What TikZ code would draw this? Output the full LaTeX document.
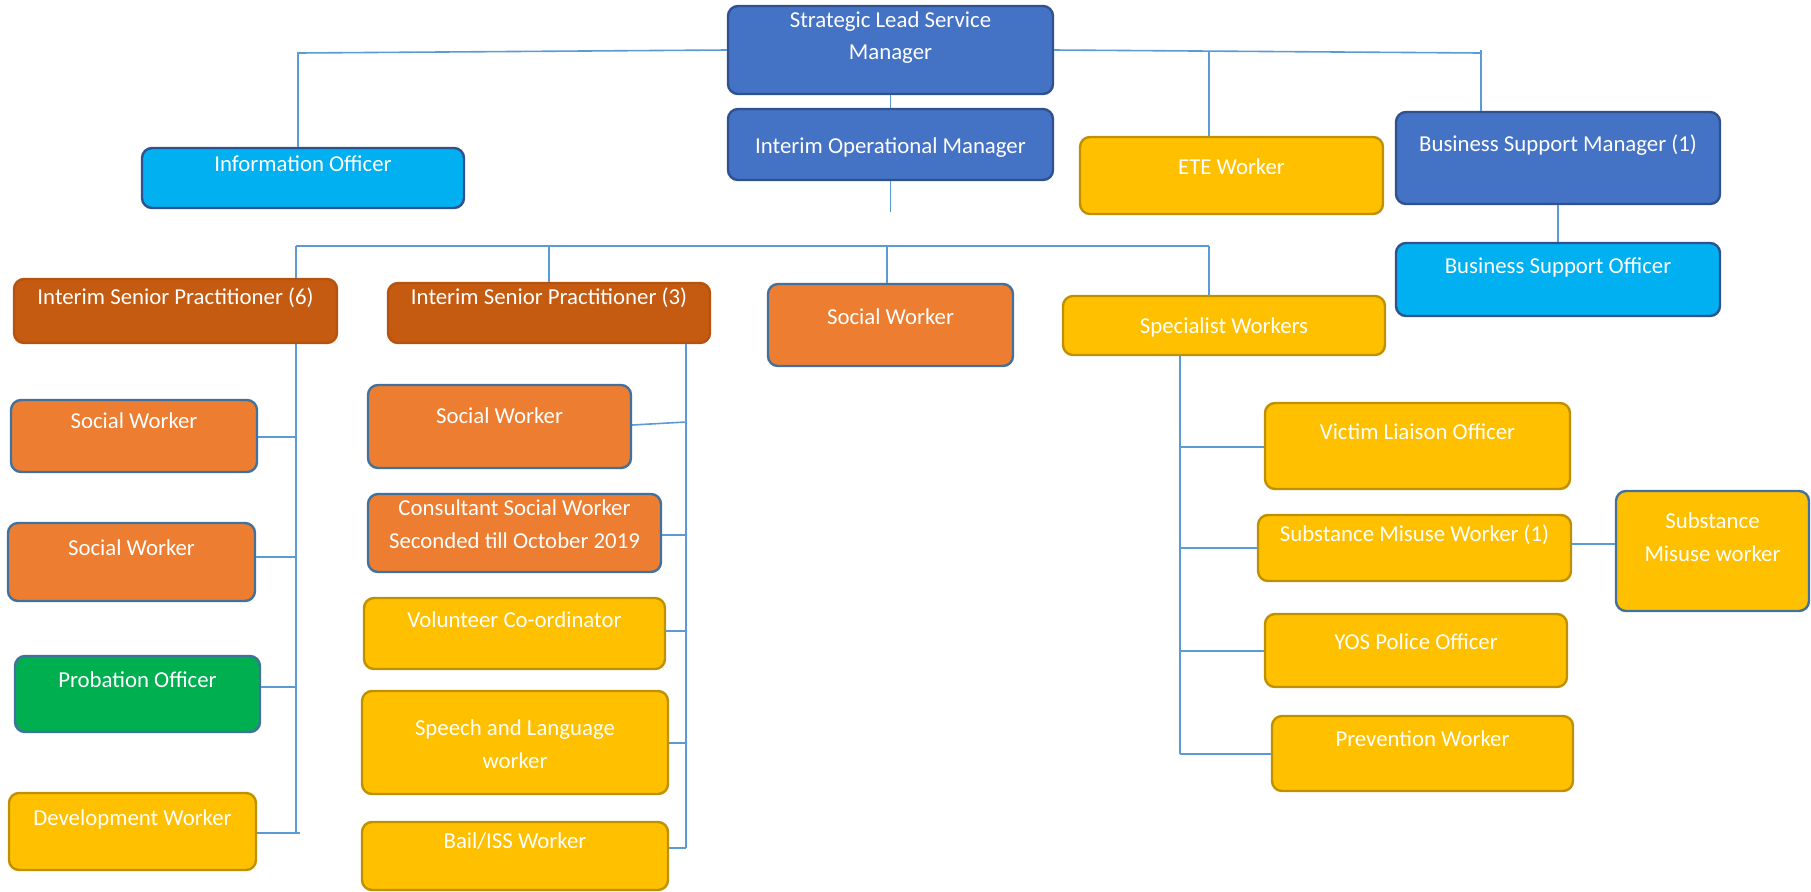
\documentclass[tikz,border=0pt]{standalone}
\usepackage{fontspec}
\setmainfont{Carlito}
\usetikzlibrary{fit}
\definecolor{dblue}{HTML}{4472C4}
\definecolor{dblueB}{HTML}{2F528F}
\definecolor{cyanF}{HTML}{00B0F0}
\definecolor{goldF}{HTML}{FFC000}
\definecolor{goldB}{HTML}{BF9000}
\definecolor{rustF}{HTML}{C55A11}
\definecolor{rustB}{HTML}{B5530F}
\definecolor{orangeF}{HTML}{ED7D31}
\definecolor{greenF}{HTML}{00B050}
\definecolor{midB}{HTML}{41719C}
\definecolor{lineC}{HTML}{5B9BD5}
\newcommand\orgbox[9]{%
  \node[#2, fit={(#3,#4) (#5,#6)}] (#1) {};
  \node[#8] (#1-t) at ({(#3+#5)/2},{#7+2.5}) {#9};}
\begin{document}
\begin{tikzpicture}[x=0.5pt,y=-0.5pt,
  box/.style={rounded corners=5pt, line width=1.2pt, inner sep=0pt},
  bluebox/.style={box, fill=dblue, draw=dblueB},
  cyanbox/.style={box, fill=cyanF, draw=dblueB},
  goldbox/.style={box, fill=goldF, draw=goldB},
  rustbox/.style={box, fill=rustF, draw=rustB},
  orangebox/.style={box, fill=orangeF, draw=midB},
  greenbox/.style={box, fill=greenF, draw=midB},
  goldblue/.style={box, fill=goldF, draw=midB},
  lbl/.style={text=white, font=\fontsize{11.4}{16.4}\selectfont, inner sep=0pt, text height=0.7em, text depth=0.2em},
  lbl2/.style={text=white, font=\fontsize{11.4}{16.4}\selectfont, inner sep=0pt, align=center},
  conn/.style={draw=lineC, line width=0.8pt}]
\useasboundingbox (0,0) rectangle (1811,891);

\orgbox{slsm}{bluebox}{728}{6}{1053}{94}{35}{lbl2}{Strategic Lead Service\\Manager}
\orgbox{iom}{bluebox}{728}{109}{1053}{180}{146}{lbl}{Interim Operational Manager}
\orgbox{info}{cyanbox}{142}{148}{464}{208}{164}{lbl}{Information Officer}
\orgbox{ete}{goldbox}{1080}{137}{1383}{214}{167}{lbl}{ETE Worker}
\orgbox{bsm}{bluebox}{1396}{112}{1720}{204}{144}{lbl}{Business Support Manager (1)}
\orgbox{bso}{cyanbox}{1396}{243}{1720}{316}{266}{lbl}{Business Support Officer}
\orgbox{ispa}{rustbox}{14}{279}{337}{343}{297}{lbl}{Interim Senior Practitioner (6)}
\orgbox{ispb}{rustbox}{388}{283}{710}{343}{297}{lbl}{Interim Senior Practitioner (3)}
\orgbox{swm}{orangebox}{768}{284}{1013}{366}{317}{lbl}{Social Worker}
\orgbox{spec}{goldbox}{1063}{296}{1385}{355}{326}{lbl}{Specialist Workers}
\orgbox{swa}{orangebox}{11}{400}{257}{472}{421}{lbl}{Social Worker}
\orgbox{swb}{orangebox}{8}{523}{255}{601}{548}{lbl}{Social Worker}
\orgbox{prob}{greenbox}{15}{656}{260}{732}{680}{lbl}{Probation Officer}
\orgbox{dev}{goldbox}{9}{793}{256}{870}{818}{lbl}{Development Worker}
\orgbox{swc}{orangebox}{368}{385}{631}{468}{416}{lbl}{Social Worker}
\orgbox{cons}{orangebox}{368}{494}{661}{572}{522}{lbl2}{Consultant Social Worker\\Seconded till October 2019}
\orgbox{vol}{goldbox}{364}{598}{665}{669}{620}{lbl}{Volunteer Co-ordinator}
\orgbox{speech}{goldbox}{362}{691}{668}{794}{742}{lbl2}{Speech and Language\\worker}
\orgbox{bail}{goldbox}{362}{822}{668}{890}{841}{lbl}{Bail/ISS Worker}
\orgbox{vlo}{goldbox}{1265}{403}{1570}{489}{432}{lbl}{Victim Liaison Officer}
\orgbox{smwa}{goldbox}{1258}{515}{1571}{581}{534}{lbl}{Substance Misuse Worker (1)}
\orgbox{smwb}{goldblue}{1616}{491}{1809}{611}{535}{lbl2}{Substance\\Misuse worker}
\orgbox{yos}{goldbox}{1265}{614}{1567}{687}{642}{lbl}{YOS Police Officer}
\orgbox{prev}{goldbox}{1272}{716}{1573}{791}{739}{lbl}{Prevention Worker}

% top level connectors
\coordinate (tl) at (298,53);
\coordinate (tr) at (1481,53);
\coordinate (trtop) at (1481,50);
\coordinate (tete) at (1209,51.5);
\draw[conn] (slsm.west) -- (tl) -- (tl |- info.north);
\draw[conn] (slsm.east) -- (tr);
\draw[conn] (trtop) -- (trtop |- bsm.north);
\draw[conn] (tete) -- (tete |- ete.north);
\draw[conn] (slsm.south) -- (iom.north);
\coordinate (iomend) at (890.5,212);
\draw[conn] (iom.south) -- (iomend);
\draw[conn] (bsm.south) -- (bso.north);

% second level bus
\coordinate (ha) at (296,246);
\coordinate (hb) at (549,246);
\coordinate (hc) at (887,246);
\coordinate (hd) at (1209,246);
\draw[conn] (ha) -- (hd);
\draw[conn] (ha) -- (ha |- ispa.north);
\draw[conn] (hb) -- (hb |- ispb.north);
\draw[conn] (hc) -- (hc |- swm.north);
\draw[conn] (hd) -- (hd |- spec.north);

% ISP (6) column
\coordinate (va) at (296,833);
\draw[conn] (ispa.south -| va) -- (va);
\draw[conn] (swa.east |- 0,437) -- (va |- 0,437);
\draw[conn] (swb.east |- 0,557) -- (va |- 0,557);
\draw[conn] (prob.east |- 0,687) -- (va |- 0,687);
\draw[conn] (dev.east |- 0,833) -- (300,833);

% ISP (3) column
\coordinate (vb) at (686,848);
\draw[conn] (ispb.south -| vb) -- (vb);
\draw[conn] (swc.east |- 0,425) -- (vb |- 0,422);
\draw[conn] (cons.east |- 0,535) -- (vb |- 0,535);
\draw[conn] (vol.east |- 0,631) -- (vb |- 0,631);
\draw[conn] (speech.east |- 0,743) -- (vb |- 0,743);
\draw[conn] (bail.east |- 0,848) -- (vb);

% Specialist column
\coordinate (vc) at (1180,754);
\draw[conn] (spec.south -| vc) -- (vc);
\draw[conn] (vc |- 0,447) -- (vlo.west |- 0,447);
\draw[conn] (vc |- 0,548) -- (smwa.west |- 0,548);
\draw[conn] (vc |- 0,651) -- (yos.west |- 0,651);
\draw[conn] (vc) -- (prev.west |- 0,754);
\draw[conn] (smwa.east |- 0,544) -- (smwb.west |- 0,544);
\end{tikzpicture}
\end{document}
